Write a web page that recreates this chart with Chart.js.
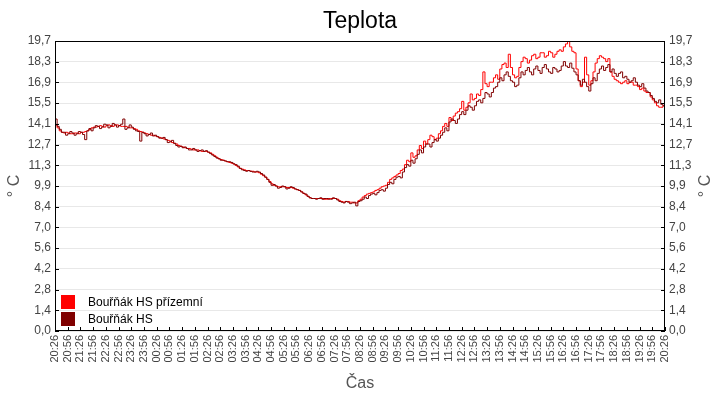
<!DOCTYPE html>
<html>
<head>
<meta charset="utf-8">
<script src="https://cdn.jsdelivr.net/npm/chart.js@4/dist/chart.umd.min.js"></script>
<style>
  html, body { margin: 0; padding: 0; background: #fff; }
  #wrap { width: 720px; height: 400px; }
</style>
</head>
<body>
<div id="wrap"><canvas id="tempChart"></canvas></div>
<script>
// one sample every 5 min, starting 20:26
const startLabel = "20:26";
const stepMinutes = 5;

const xTickLabels = [
  "20:26", "20:56", "21:26", "21:56", "22:26", "22:56", "23:26", "23:56",
  "00:26", "00:56", "01:26", "01:56", "02:26", "02:56", "03:26", "03:56",
  "04:26", "04:56", "05:26", "05:56", "06:26", "06:56", "07:26", "07:56",
  "08:26", "08:56", "09:26", "09:56", "10:26", "10:56", "11:26", "11:56",
  "12:26", "12:56", "13:26", "13:56", "14:26", "14:56", "15:26", "15:56",
  "16:26", "16:56", "17:26", "17:56", "18:26", "18:56", "19:26", "19:56",
  "20:26"
];

const yTickLabels = ["0,0", "1,4", "2,8", "4,2", "5,6", "7,0", "8,4", "9,9",
  "11,3", "12,7", "14,1", "15,5", "16,9", "18,3", "19,7"];
const yMax = 19.7;

// Bouřňák HS přízemní
const groundTemp = [
  14.0, 13.8, 13.6, 13.5, 13.45, 13.5, 13.45, 13.4, 13.4, 13.45,
  13.45, 13.4, 13.5, 13.5, 13.55, 13.6, 13.7, 13.8, 13.85, 13.85,
  13.9, 13.95, 13.9, 13.85, 13.95, 14.0, 13.95, 13.9, 14.0, 14.0,
  13.95, 13.9, 13.9, 13.9, 13.85, 13.8, 13.8, 13.75, 13.7, 13.6,
  13.55, 13.5, 13.45, 13.4, 13.35, 13.3, 13.3, 13.25, 13.2, 13.15,
  13.1, 13.05, 13.0, 12.95, 12.9, 12.8, 12.75, 12.7, 12.6, 12.55,
  12.5, 12.45, 12.4, 12.4, 12.35, 12.3, 12.3, 12.3, 12.25, 12.2,
  12.2, 12.2, 12.15, 12.1, 12.0, 11.9, 11.8, 11.7, 11.65, 11.6,
  11.55, 11.5, 11.45, 11.4, 11.35, 11.25, 11.15, 11.05, 11.0, 10.95,
  10.9, 10.9, 10.85, 10.85, 10.8, 10.8, 10.75, 10.65, 10.55, 10.45,
  10.3, 10.15, 10.0, 9.9, 9.85, 9.8, 9.8, 9.8, 9.8, 9.75,
  9.75, 9.75, 9.7, 9.65, 9.6, 9.55, 9.45, 9.35, 9.25, 9.15,
  9.05, 9.0, 9.0, 9.0, 9.0, 9.0, 9.0, 8.95, 8.95, 9.0,
  9.0, 9.0, 9.0, 8.95, 8.85, 8.8, 8.75, 8.8, 8.8, 8.75,
  8.75, 8.7, 8.7, 8.85, 8.95, 9.1, 9.2, 9.3, 9.35, 9.4,
  9.45, 9.55, 9.6, 9.7, 9.8, 9.85, 9.9, 10.1, 10.3, 10.4,
  10.5, 10.6, 10.7, 10.9, 11.0, 11.3, 11.6, 11.5, 12.1, 11.8,
  11.9, 12.3, 12.6, 12.4, 12.9, 12.7, 13.0, 13.3, 13.2, 13.0,
  13.1, 13.4, 13.6, 13.9, 14.1, 13.9, 14.5, 14.3, 14.6, 14.8,
  14.9, 15.1, 15.6, 15.0, 15.2, 15.5, 16.1, 15.7, 15.8, 16.1,
  16.0, 16.4, 17.6, 16.8, 16.6, 16.9, 16.9, 17.2, 17.4, 17.1,
  17.8, 18.1, 18.2, 17.9, 18.8, 17.9, 17.4, 17.2, 17.3, 17.9,
  18.3, 18.6, 18.5, 18.2, 18.4, 18.7, 18.8, 18.5, 18.6, 18.9,
  18.9, 18.6, 18.7, 19.0, 18.9, 18.6, 18.8, 19.0, 19.1, 19.0,
  19.3, 19.5, 19.7, 19.3, 19.0, 18.9, 17.8, 17.0, 16.6, 16.9,
  18.6, 17.4, 16.7, 17.0, 17.6, 18.2, 18.5, 18.7, 18.6, 18.5,
  18.3, 18.5, 17.6, 17.3, 17.1, 17.0, 16.9, 16.8, 16.9, 17.0,
  16.8, 16.9, 16.9, 16.7, 16.7, 16.6, 16.4, 16.5, 16.3, 16.2,
  16.2, 15.9, 15.7, 15.5, 15.3, 15.2, 15.2, 15.3, 15.2
];

// Bouřňák HS
const hsTemp = [
  14.4, 13.9, 13.7, 13.5, 13.5, 13.3, 13.4, 13.55, 13.45, 13.3,
  13.4, 13.55, 13.5, 13.35, 13.0, 13.6, 13.75, 13.6, 13.8, 13.95,
  13.9, 13.75, 13.85, 14.05, 14.0, 13.8, 13.9, 14.1, 14.0, 13.85,
  13.95, 14.05, 14.4, 13.7, 13.8, 14.0, 13.85, 13.7, 13.6, 13.55,
  12.9, 13.5, 13.4, 13.25, 13.35, 13.45, 13.25, 13.3, 13.2, 13.1,
  13.1, 13.15, 13.0, 12.8, 12.85, 12.95, 12.75, 12.6, 12.5, 12.55,
  12.45, 12.5, 12.4, 12.3, 12.3, 12.4, 12.3, 12.2, 12.25, 12.3,
  12.2, 12.25, 12.15, 12.05, 11.95, 11.85, 11.75, 11.7, 11.6, 11.6,
  11.55, 11.5, 11.5, 11.45, 11.35, 11.3, 11.2, 11.05, 10.95, 10.9,
  10.85, 10.9, 10.85, 10.8, 10.8, 10.85, 10.8, 10.7, 10.6, 10.45,
  10.3, 10.1, 9.9, 9.95, 9.85, 9.7, 9.75, 9.85, 9.8, 9.65,
  9.7, 9.8, 9.75, 9.65, 9.6, 9.55, 9.45, 9.35, 9.3, 9.15,
  9.05, 9.0, 9.0, 8.95, 9.0, 9.05, 8.95, 9.0, 9.0, 8.95,
  8.95, 9.05, 9.0, 8.9, 8.8, 8.75, 8.7, 8.8, 8.75, 8.65,
  8.7, 8.75, 8.5, 8.8, 8.85, 8.95, 9.1, 9.0, 9.2, 9.3,
  9.35, 9.25, 9.4, 9.55, 9.6, 9.5, 9.7, 9.95, 10.1, 10.0,
  10.3, 10.45, 10.5, 10.4, 10.8, 11.1, 11.3, 11.2, 11.6, 11.4,
  11.7, 12.0, 12.3, 12.1, 12.5, 12.7, 12.7, 12.5, 12.8, 13.0,
  12.9, 13.1, 13.3, 13.5, 13.8, 13.6, 14.2, 14.4, 14.3, 14.1,
  14.4, 14.7, 14.9, 14.7, 15.0, 15.3, 15.2, 15.0, 15.3, 15.6,
  15.7, 15.5, 15.8, 16.2, 16.1, 15.9, 16.2, 16.5, 16.6, 16.9,
  17.2, 17.0, 17.4, 17.6, 17.3, 17.0, 16.9, 16.6, 16.7, 17.2,
  17.6, 17.4, 17.7, 17.9, 17.6, 17.4, 17.8, 18.0, 17.7, 17.5,
  17.9, 18.1, 17.8, 17.6, 17.5, 17.9, 17.8, 17.6, 17.7, 18.0,
  18.3, 18.0, 17.9, 18.2, 17.85, 17.6, 17.4, 17.0, 16.7, 17.1,
  16.9, 16.6, 16.3, 16.8, 17.2, 17.0, 17.5, 17.8, 18.0, 17.7,
  17.9, 18.1, 17.6, 17.8, 17.5, 17.3, 17.5, 17.6, 17.2, 17.3,
  17.1, 16.9, 17.0, 17.2, 16.9, 16.7, 16.6, 16.8, 16.5, 16.3,
  16.2, 16.0, 15.8, 15.6, 15.5, 15.7, 15.4, 15.3, 15.6
];

function toPoints(values) {
  return values.map((v, i) => ({ x: i * stepMinutes, y: v }));
}

const fontFamily = "'Liberation Sans', Arial, sans-serif";
const plotLeft = 55, plotRight = 665, plotBottom = 331;

// frame, inward tick marks, legend and right axis title
const framePlugin = {
  id: "frame",
  afterDraw(chart) {
    const ctx = chart.ctx;
    const a = chart.chartArea;
    ctx.save();
    ctx.strokeStyle = "#000";
    ctx.lineWidth = 1;
    ctx.strokeRect(a.left + 0.5, a.top + 0.5, a.right - a.left - 1, a.bottom - a.top - 1);

    ctx.beginPath();
    chart.scales.y.ticks.forEach(t => {
      const py = Math.round(chart.scales.y.getPixelForValue(t.value)) + 0.5;
      ctx.moveTo(a.left, py); ctx.lineTo(a.left + 4, py);
      ctx.moveTo(a.right, py); ctx.lineTo(a.right - 4, py);
    });
    chart.scales.x.ticks.forEach(t => {
      const px = Math.round(chart.scales.x.getPixelForValue(t.value)) + 0.5;
      ctx.moveTo(px, a.bottom); ctx.lineTo(px, a.bottom - 4);
    });
    ctx.stroke();

    // legend inside plot, bottom left
    ctx.font = "12px " + fontFamily;
    ctx.textBaseline = "middle";
    const items = [chart.data.datasets[0], chart.data.datasets[1]];
    items.forEach((ds, i) => {
      const y0 = a.bottom - 36 + i * 17;
      ctx.fillStyle = ds.borderColor;
      ctx.fillRect(a.left + 6, y0, 14, 14);
      ctx.fillStyle = "#000";
      ctx.fillText(ds.label, a.left + 33, y0 + 8);
    });

    // right axis title reads bottom to top like the left one
    ctx.translate(706, (a.top + a.bottom) / 2);
    ctx.rotate(-Math.PI / 2);
    ctx.font = "16px " + fontFamily;
    ctx.fillStyle = "#555";
    ctx.textAlign = "center";
    ctx.fillText("° C", 0, 0);
    ctx.restore();
  }
};

function yAxis(position) {
  return {
    type: "linear",
    position: position,
    min: 0,
    max: yMax,
    afterBuildTicks(scale) {
      scale.ticks = yTickLabels.map((l, i) => ({ value: i * yMax / (yTickLabels.length - 1) }));
    },
    afterFit(scale) {
      scale.width = position === "left" ? plotLeft : 720 - plotRight;
    },
    ticks: {
      color: "#444",
      font: { family: fontFamily, size: 12 },
      padding: 4,
      callback: (v, i) => yTickLabels[i]
    },
    grid: {
      display: position === "left",
      color: "#e8e8e8",
      drawTicks: false
    },
    border: { display: false },
    title: {
      display: position === "left",
      text: "° C",
      color: "#555",
      font: { family: fontFamily, size: 16 },
      padding: { top: 5, bottom: 0 }
    }
  };
}

new Chart(document.getElementById("tempChart"), {
  type: "line",
  data: {
    datasets: [{
      label: "Bouřňák HS přízemní",
      data: toPoints(groundTemp),
      borderColor: "#ff0000",
      backgroundColor: "#ff0000",
      borderWidth: 1,
      pointRadius: 0,
      stepped: true,
      order: 2
    }, {
      label: "Bouřňák HS",
      data: toPoints(hsTemp),
      borderColor: "#800000",
      backgroundColor: "#800000",
      borderWidth: 1,
      pointRadius: 0,
      stepped: true,
      order: 1
    }]
  },
  options: {
    responsive: true,
    maintainAspectRatio: false,
    animation: false,
    layout: { padding: 0 },
    plugins: {
      legend: { display: false },
      tooltip: { enabled: false },
      title: {
        display: true,
        text: "Teplota",
        color: "#000",
        font: { family: fontFamily, size: 23, weight: "normal" },
        padding: { top: 8, bottom: 5.4 }
      }
    },
    scales: {
      x: {
        type: "linear",
        min: 0,
        max: (xTickLabels.length - 1) * 30,
        afterBuildTicks(scale) {
          scale.ticks = xTickLabels.map((l, i) => ({ value: i * 30 }));
        },
        afterFit(scale) {
          scale.height = 400 - plotBottom;
        },
        ticks: {
          autoSkip: false,
          minRotation: 90,
          maxRotation: 90,
          color: "#444",
          font: { family: fontFamily, size: 11 },
          padding: 4,
          callback: (v, i) => xTickLabels[i]
        },
        grid: { display: false, drawTicks: false },
        border: { display: false },
        title: {
          display: true,
          text: "Čas",
          color: "#555",
          font: { family: fontFamily, size: 16 },
          padding: { top: 4, bottom: 7 }
        }
      },
      y: yAxis("left"),
      y2: yAxis("right")
    }
  },
  plugins: [framePlugin]
});
</script>
</body>
</html>
